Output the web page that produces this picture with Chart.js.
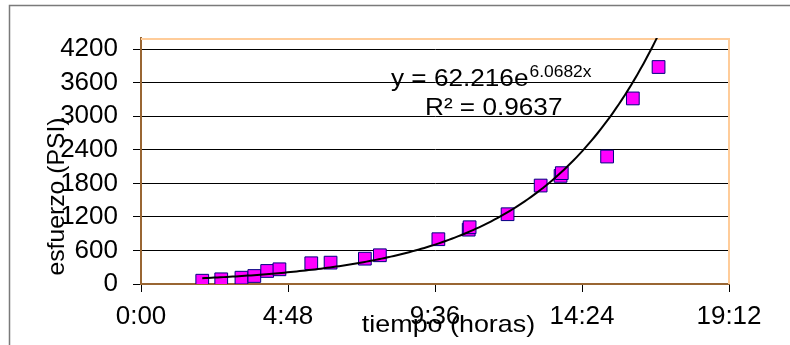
<!DOCTYPE html>
<html>
<head>
<meta charset="utf-8">
<script src="https://cdn.jsdelivr.net/npm/chart.js@4.4.1/dist/chart.umd.min.js"></script>
<style>
html,body{margin:0;padding:0;background:#fff;}
canvas{display:block;}
</style>
</head>
<body>
<canvas id="c" width="790" height="345"></canvas>
<script>
// ---- data (time in hours, stress in PSI) ----
const HOURS = [2.00, 2.62, 3.28, 3.70, 4.12, 4.52, 5.56, 6.19, 7.31, 7.80, 9.71, 10.70, 10.73, 11.97, 13.05, 13.70, 13.74, 15.22, 16.06, 16.90];
const PSI   = [59,   84,   113,  143,  233,  263,  371,  382,  453,  514,  801,  972,   1015,  1248,  1761,  1934,  1983,  2280,  3319,  3881];
const X_TICKS = [0, 4.8, 9.6, 14.4, 19.2];
const Y_TICKS = [0, 600, 1200, 1800, 2400, 3000, 3600, 4200];
// exponential trendline shown on the chart: y = 62.216 e^(6.0682 x), x in days
const TREND_A = 62.216;
const TREND_B = 6.0682;
const EQ_TEXT = 'y = 62.216e';
const EQ_EXP = '6.0682x';
const R2_TEXT = 'R\u00B2 = 0.9637';
const X_TITLE = 'tiempo (horas)';
const Y_TITLE = 'esfuerzo (PSI)';

const FONT = '"Liberation Sans", Arial, Helvetica, sans-serif';

function fmtTime(v) {
  const total = Math.round(v * 60);
  const h = Math.floor(total / 60), m = total % 60;
  return h + ':' + String(m).padStart(2, '0');
}

const points = HOURS.map((h, i) => ({x: h, y: PSI[i]}));
const trend = [];
const xStart = Math.min(...HOURS), xEnd = Math.max(...HOURS);
const N = 150;
for (let i = 0; i <= N; i++) {
  const h = xStart + (xEnd - xStart) * i / N;
  trend.push({x: h, y: TREND_A * Math.exp(TREND_B * h / 24)});
}

function drawText(c, s, x, y, size, sx, align, baseline) {
  c.save();
  c.font = size + 'px ' + FONT;
  c.fillStyle = '#000';
  c.textAlign = align;
  c.textBaseline = baseline || 'alphabetic';
  c.translate(x, y);
  c.scale(sx, 1);
  c.fillText(s, 0, 0);
  const w = c.measureText(s).width * sx;
  c.restore();
  return w;
}

const decor = {
  id: 'decor',
  beforeDraw(chart) {
    const c = chart.ctx;
    c.save();
    c.fillStyle = '#fff';
    c.fillRect(0, 0, chart.width, chart.height);
    c.strokeStyle = '#7a7a7a';
    c.lineWidth = 1.5;
    c.beginPath();
    c.moveTo(9.5, chart.height);
    c.lineTo(9.5, 5.5);
    c.lineTo(chart.width, 5.5);
    c.stroke();
    c.restore();
  },
  beforeDatasetsDraw(chart) {
    const a = chart.chartArea, c = chart.ctx;
    c.save();
    c.strokeStyle = '#FFCC99';
    c.lineWidth = 2;
    c.beginPath();
    c.moveTo(a.left, a.top + 1);
    c.lineTo(a.right, a.top + 1);
    c.lineTo(a.right, a.bottom);
    c.stroke();
    c.restore();
  },
  afterDraw(chart) {
    const c = chart.ctx;
    const w = drawText(c, EQ_TEXT, 391, 86, 24, 1.09, 'left');
    drawText(c, EQ_EXP, 391 + w + 1, 77, 16, 1.09, 'left');
    drawText(c, R2_TEXT, 425, 115, 24, 1.09, 'left');
    drawText(c, X_TITLE, 448.5, 332, 24, 1.12, 'center');
    c.save();
    c.font = '24px ' + FONT;
    c.fillStyle = '#000';
    c.translate(57.5, 196.5);
    c.rotate(-Math.PI / 2);
    c.scale(1.03, 1);
    c.textAlign = 'center';
    c.textBaseline = 'middle';
    c.fillText(Y_TITLE, 0, 0);
    c.restore();
  }
};

new Chart(document.getElementById('c'), {
  type: 'scatter',
  data: {
    datasets: [
      {
        type: 'line',
        label: 'Exponencial',
        data: trend,
        borderColor: '#000',
        borderWidth: 2,
        pointRadius: 0,
        tension: 0,
        fill: false,
        order: 0
      },
      {
        label: 'esfuerzo',
        data: points,
        pointStyle: 'rect',
        pointRadius: 9,
        backgroundColor: '#FF00FF',
        borderColor: '#000080',
        borderWidth: 1,
        order: 1
      }
    ]
  },
  options: {
    responsive: false,
    animation: false,
    layout: {padding: {top: 38, right: 61, left: 0, bottom: 0}},
    plugins: {legend: {display: false}, tooltip: {enabled: false}},
    scales: {
      x: {
        type: 'linear',
        min: 0,
        max: 19.2,
        afterBuildTicks: s => { s.ticks = X_TICKS.map(v => ({value: v})); },
        afterFit: s => { s.height = 61; },
        grid: {drawOnChartArea: false, drawTicks: true, tickLength: 8, tickColor: '#000', tickWidth: 1},
        border: {display: true, color: '#996633', width: 2},
        ticks: {font: {family: FONT, size: 26}, color: '#000', padding: 9, maxRotation: 0, autoSkip: false, callback: v => fmtTime(v)}
      },
      y: {
        type: 'linear',
        min: 0,
        max: 4400,
        afterBuildTicks: s => { s.ticks = Y_TICKS.map(v => ({value: v})); },
        afterFit: s => { s.width = 141; },
        grid: {
          color: ctx => (ctx.tick && ctx.tick.value === 0) ? 'rgba(0,0,0,0)' : '#000',
          lineWidth: 1, drawTicks: true, tickLength: 8, tickColor: '#000', tickWidth: 1
        },
        border: {display: true, color: '#996633', width: 2},
        ticks: {font: {family: FONT, size: 26}, color: '#000', padding: 15, callback: v => String(v)}
      }
    }
  },
  plugins: [decor]
});
</script>
</body>
</html>
